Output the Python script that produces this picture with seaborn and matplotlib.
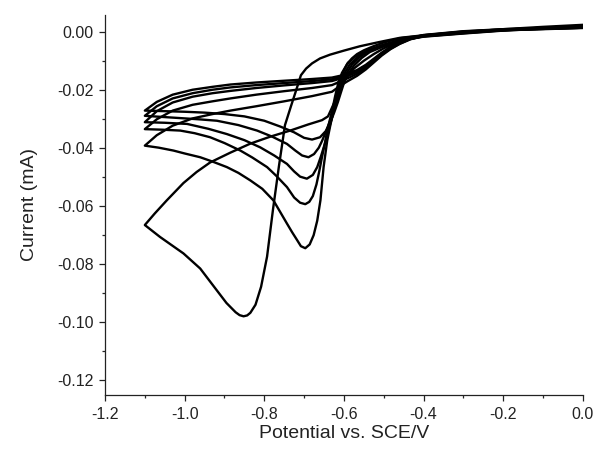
import pandas as pd
import matplotlib
matplotlib.use("Agg")
import matplotlib.pyplot as plt
from matplotlib.ticker import MultipleLocator, FormatStrFormatter
import seaborn as sns

# cycle 1 (first scan, big nucleation loop)
c1_fwd_v = [0.0, -0.1, -0.2, -0.3, -0.4, -0.46, -0.51, -0.56, -0.60, -0.635, -0.66, -0.68, -0.695,
            -0.708, -0.72, -0.733, -0.748, -0.763, -0.778, -0.793, -0.808, -0.822, -0.835, -0.843,
            -0.852, -0.862, -0.872, -0.895, -0.925, -0.961, -1.003, -1.062, -1.1]
c1_fwd_i = [0.0026, 0.0019, 0.0011, 0.0001, -0.0010, -0.0019, -0.0033, -0.0048, -0.0063, -0.0077,
            -0.0090, -0.0107, -0.0125, -0.0148, -0.0200, -0.0255, -0.0320, -0.0460, -0.0610, -0.0774,
            -0.0878, -0.0940, -0.0968, -0.0977, -0.0980, -0.0976, -0.0966, -0.0934, -0.0880, -0.0815,
            -0.0763, -0.0706, -0.0665]
c1_ret_v = [-1.1, -1.075, -1.045, -1.003, -0.97, -0.936, -0.885, -0.835, -0.785, -0.735, -0.69, -0.655,
            -0.64, -0.625, -0.61, -0.595, -0.575, -0.55, -0.525, -0.5, -0.47, -0.433, -0.4, -0.3, -0.2,
            -0.1, 0.0]
c1_ret_i = [-0.0665, -0.0625, -0.0580, -0.0520, -0.0482, -0.0449, -0.0415, -0.0384, -0.0360, -0.0339,
            -0.0318, -0.0303, -0.0290, -0.0245, -0.0195, -0.0158, -0.0125, -0.0098, -0.0075, -0.0055,
            -0.0037, -0.0022, -0.0012, 0.0001, 0.0008, 0.0012, 0.0016]

# cycles 2-6
c2_fwd_v = [0.0, -0.1, -0.2, -0.3, -0.4, -0.458, -0.50, -0.526, -0.55, -0.567, -0.58, -0.592, -0.60,
            -0.609, -0.618, -0.626, -0.634, -0.642, -0.651, -0.659, -0.667, -0.676, -0.686, -0.697,
            -0.708, -0.718, -0.730, -0.743, -0.760, -0.777, -0.805, -0.835, -0.865, -0.894, -0.930,
            -0.961, -1.0, -1.028, -1.065, -1.1]
c2_fwd_i = [0.0022, 0.0016, 0.0009, -0.0001, -0.0011, -0.0020, -0.0035, -0.0048, -0.0062, -0.0075,
            -0.0090, -0.0110, -0.0132, -0.0170, -0.0220, -0.0270, -0.0320, -0.0374, -0.0465, -0.0580,
            -0.0650, -0.0700, -0.0732, -0.0745, -0.0738, -0.0716, -0.0690, -0.0660, -0.0620, -0.0580,
            -0.0540, -0.0511, -0.0485, -0.0465, -0.0446, -0.0431, -0.0418, -0.0408, -0.0398, -0.0391]

c3_fwd_v = [0.0, -0.1, -0.2, -0.3, -0.4, -0.45, -0.5, -0.54, -0.57, -0.59, -0.605, -0.615, -0.622,
            -0.628, -0.635, -0.642, -0.648, -0.655, -0.662, -0.669, -0.678, -0.687, -0.697, -0.71,
            -0.725, -0.743, -0.77, -0.793, -0.83, -0.860, -0.90, -0.936, -0.975, -1.011, -1.055, -1.1]
c3_fwd_i = [0.0022, 0.0016, 0.0009, -0.0001, -0.0012, -0.0023, -0.0042, -0.0062, -0.0082, -0.0105,
            -0.0140, -0.0180, -0.0220, -0.0260, -0.0300, -0.0340, -0.0385, -0.0430, -0.0480, -0.0525,
            -0.0565, -0.0585, -0.0593, -0.0588, -0.0570, -0.0534, -0.0495, -0.0465, -0.0432, -0.0408,
            -0.0382, -0.0362, -0.0348, -0.0339, -0.0336, -0.0334]

c4_fwd_v = [0.0, -0.1, -0.2, -0.3, -0.4, -0.45, -0.5, -0.54, -0.565, -0.585, -0.60, -0.61, -0.617,
            -0.624, -0.632, -0.640, -0.648, -0.657, -0.667, -0.678, -0.693, -0.71, -0.725, -0.743,
            -0.775, -0.81, -0.85, -0.894, -0.94, -0.994, -1.05, -1.1]
c4_fwd_i = [0.0021, 0.0015, 0.0008, -0.0002, -0.0013, -0.0024, -0.0044, -0.0064, -0.0085, -0.0110,
            -0.0145, -0.0185, -0.0225, -0.0265, -0.0305, -0.0345, -0.0385, -0.0425, -0.0465, -0.0492,
            -0.0505, -0.0498, -0.0480, -0.0454, -0.0425, -0.0397, -0.0372, -0.0351, -0.0333, -0.0316,
            -0.0312, -0.0310]

c5_fwd_v = [0.0, -0.1, -0.2, -0.3, -0.4, -0.45, -0.5, -0.54, -0.56, -0.58, -0.595, -0.605, -0.612,
            -0.62, -0.628, -0.636, -0.646, -0.655, -0.663, -0.675, -0.689, -0.705, -0.722, -0.743,
            -0.78, -0.818, -0.865, -0.919, -0.965, -1.01, -1.055, -1.1]
c5_fwd_i = [0.0020, 0.0014, 0.0007, -0.0003, -0.0014, -0.0025, -0.0046, -0.0066, -0.0085, -0.0112,
            -0.0145, -0.0180, -0.0215, -0.0250, -0.0280, -0.0310, -0.0345, -0.0375, -0.0398, -0.0420,
            -0.0431, -0.0425, -0.0408, -0.0385, -0.0360, -0.0339, -0.0320, -0.0305, -0.0300, -0.0296,
            -0.0292, -0.0288]

c6_fwd_v = [0.0, -0.1, -0.2, -0.3, -0.4, -0.45, -0.5, -0.535, -0.555, -0.575, -0.59, -0.60, -0.607,
            -0.615, -0.624, -0.634, -0.645, -0.66, -0.68, -0.70, -0.725, -0.76, -0.80, -0.85, -0.90,
            -0.95, -1.0, -1.05, -1.1]
c6_fwd_i = [0.0019, 0.0013, 0.0006, -0.0004, -0.0015, -0.0026, -0.0048, -0.0068, -0.0088, -0.0115,
            -0.0145, -0.0175, -0.0205, -0.0240, -0.0275, -0.0310, -0.0340, -0.0362, -0.0370, -0.0364,
            -0.0345, -0.0325, -0.0305, -0.0290, -0.0282, -0.0277, -0.0274, -0.0272, -0.0270]

# reverse scans of cycles 2-6 share the same potential steps
ret_v = [-1.1, -1.07, -1.03, -0.98, -0.93, -0.885, -0.82, -0.75, -0.68, -0.63, -0.61, -0.59, -0.567,
         -0.545, -0.525, -0.505, -0.483, -0.46, -0.433, -0.4, -0.3, -0.2, -0.1, 0.0]
c2_ret_i = [-0.0391, -0.0355, -0.0322, -0.0297, -0.0282, -0.0270, -0.0255, -0.0238, -0.0220, -0.0205,
            -0.0185, -0.0168, -0.0150, -0.0128, -0.0104, -0.0080, -0.0058, -0.0040, -0.0024, -0.0013,
            0.0000, 0.0007, 0.0011, 0.0015]
c3_ret_i = [-0.0334, -0.0300, -0.0270, -0.0250, -0.0238, -0.0228, -0.0215, -0.0203, -0.0192, -0.0182,
            -0.0170, -0.0158, -0.0143, -0.0123, -0.0100, -0.0077, -0.0056, -0.0039, -0.0023, -0.0012,
            0.0001, 0.0008, 0.0012, 0.0016]
c4_ret_i = [-0.0310, -0.0272, -0.0242, -0.0222, -0.0210, -0.0202, -0.0192, -0.0183, -0.0175, -0.0168,
            -0.0160, -0.0150, -0.0137, -0.0118, -0.0097, -0.0075, -0.0054, -0.0037, -0.0022, -0.0011,
            0.0002, 0.0009, 0.0013, 0.0017]
c5_ret_i = [-0.0288, -0.0255, -0.0228, -0.0210, -0.0198, -0.0190, -0.0182, -0.0175, -0.0168, -0.0162,
            -0.0155, -0.0146, -0.0133, -0.0115, -0.0094, -0.0072, -0.0052, -0.0036, -0.0021, -0.0010,
            0.0003, 0.0010, 0.0014, 0.0018]
c6_ret_i = [-0.0270, -0.0240, -0.0215, -0.0198, -0.0188, -0.0180, -0.0173, -0.0167, -0.0161, -0.0156,
            -0.0150, -0.0142, -0.0130, -0.0112, -0.0091, -0.0070, -0.0050, -0.0035, -0.0020, -0.0009,
            0.0004, 0.0011, 0.0015, 0.0019]

cycles = [
    (c1_fwd_v + c1_ret_v, c1_fwd_i + c1_ret_i),
    (c2_fwd_v + ret_v, c2_fwd_i + c2_ret_i),
    (c3_fwd_v + ret_v, c3_fwd_i + c3_ret_i),
    (c4_fwd_v + ret_v, c4_fwd_i + c4_ret_i),
    (c5_fwd_v + ret_v, c5_fwd_i + c5_ret_i),
    (c6_fwd_v + ret_v, c6_fwd_i + c6_ret_i),
]
frames = []
for n, (v, i) in enumerate(cycles, start=1):
    frames.append(pd.DataFrame({"potential": v, "current": i, "cycle": n}))
df = pd.concat(frames, ignore_index=True)

sns.set_style("ticks")
plt.rcParams['font.family'] = ['Liberation Sans', 'DejaVu Sans']
plt.rcParams['axes.unicode_minus'] = False

fig = plt.figure(figsize=(5.95, 4.54), dpi=100)
ax = fig.add_axes([0.1765, 0.131, 0.803, 0.836])
sns.lineplot(data=df, x="potential", y="current", units="cycle", estimator=None, sort=False,
             color="black", linewidth=1.7, ax=ax)

ax.set_xlim(-1.2, 0.0)
ax.set_ylim(-0.125, 0.006)
ax.xaxis.set_major_locator(MultipleLocator(0.2))
ax.xaxis.set_minor_locator(MultipleLocator(0.1))
ax.yaxis.set_major_locator(MultipleLocator(0.02))
ax.yaxis.set_minor_locator(MultipleLocator(0.01))
ax.xaxis.set_major_formatter(FormatStrFormatter('%.1f'))
ax.yaxis.set_major_formatter(FormatStrFormatter('%.2f'))
ax.tick_params(which='major', direction='out', length=4, width=0.9, labelsize=11.5, pad=4,
               colors='#222222')
ax.tick_params(axis='x', which='major', pad=5)
ax.tick_params(which='minor', direction='out', length=2.5, width=0.9)
for s in ['left', 'bottom']:
    ax.spines[s].set_linewidth(0.9)
    ax.spines[s].set_color('#222222')
sns.despine(ax=ax)

ax.set_xlabel("Potential vs. SCE/V", fontsize=14, labelpad=2, color='#222222')
ax.set_ylabel("Current (mA)", fontsize=14, labelpad=14, color='#222222')

fig.savefig("out.png", dpi=100)
